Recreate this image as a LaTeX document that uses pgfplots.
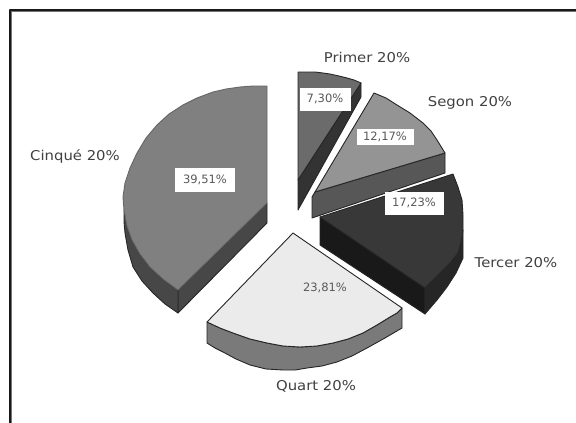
\documentclass[border=0pt]{standalone}
\usepackage{pgfplots}
\pgfplotsset{compat=1.18}
\usepackage{fontspec}
\setmainfont{DejaVu Sans}
\newcommand{\lab}[1]{\fontsize{13.5}{15}\selectfont #1}
\newcommand{\val}[1]{\fontsize{11.5}{13}\selectfont #1}
\begin{document}
\begin{tikzpicture}
\useasboundingbox (0,0) rectangle (576pt,423pt);
\begin{axis}[scale only axis,width=576pt,height=423pt,xmin=0,xmax=576,ymin=0,ymax=423,y dir=reverse,
  axis lines=none,clip=true,
  every axis plot/.append style={mark=none,line join=round,line width=0.9pt,draw=black!85}]
% frame
\addplot[draw=black!55,line width=1pt] coordinates {(11,423) (11,11.5) (576,11.5)};
\addplot[draw=black!90,line width=1.1pt] coordinates {(10,423) (10,10) (576,10)};
% Primer
\addplot[fill=black!80] coordinates {(361,83) (361,97) (298,210) (298,180)} --cycle;
\addplot[fill=black!58] coordinates {(298,72) (306,72) (315,72) (323,73) (330,74) (339,76) (347,78) (354,80) (361,83) (298,180)} --cycle;
% Segon
\addplot[fill=black!66] coordinates {(315,192) (445,153) (445,173) (312,218) (312,197)} --cycle;
\addplot[fill=black!42] coordinates {(315,192) (374,93) (386,98) (397,105) (410,113) (423,123) (431,131) (437,140) (445,153)} --cycle;
% Tercer
\addplot[fill=black!90] coordinates {(320,217) (425,288) (425,314) (320,245)} --cycle;
\addplot[fill=black!85] coordinates {(425,288) (434,279) (443,270) (451,262) (458,253) (461,242) (463,230) (463,245) (463,258) (456,273) (447,287) (437,300) (425,314)} --cycle;
\addplot[fill=black!78] coordinates {(320,217) (453,174) (458,187) (462,200) (463,215) (463,230) (461,242) (458,253) (451,262) (443,270) (434,279) (425,288)} --cycle;
% Quart
\addplot[fill=black!52] coordinates {(207,322) (207,343) (215,348) (223,352) (236,359) (250,365) (266,369) (283,370) (295,370) (307,368) (322,366) (337,362) (352,356) (367,348) (385,338) (402,328) (402,308) (397,313) (390,317) (377,325) (363,333) (348,339) (333,343) (317,346) (300,347) (283,346) (267,343) (250,339) (233,333) (220,328)} --cycle;
\addplot[fill=black!8] coordinates {(293,233) (402,308) (397,313) (390,317) (377,325) (363,333) (348,339) (333,343) (317,346) (300,347) (283,346) (267,343) (250,339) (233,333) (220,328) (207,322)} --cycle;
% Cinque
\addplot[fill=black!72] coordinates {(178,290) (267,203) (267,223) (178,313)} --cycle;
\addplot[fill=black!72] coordinates {(124,210) (124,222) (125,233) (128,250) (133,267) (142,281) (153,293) (165,304) (178,313) (178,290) (163,279) (150,267) (140,254) (132,240) (127,226)} --cycle;
\addplot[fill=black!50,draw=black!60] coordinates {(267,86) (253,86) (240,87) (226,89) (213,92) (197,98) (183,105) (169,114) (157,125) (146,138) (137,153) (130,168) (125,183) (123,197) (124,210) (127,226) (132,240) (140,254) (150,267) (163,279) (178,290) (267,203)} --cycle;
% labels
\node[fill=white,inner sep=0pt,minimum width=51pt,minimum height=23pt,text=black!65] at (axis cs:325,99) {\val{7,30\%}};
\node[fill=white,inner sep=0pt,minimum width=57pt,minimum height=16pt,text=black!65] at (axis cs:385,137) {\val{12,17\%}};
\node[fill=white,inner sep=0pt,minimum width=59pt,minimum height=23pt,text=black!65] at (axis cs:414,203) {\val{17,23\%}};
\node[fill=black!8,inner sep=0pt,minimum width=52pt,minimum height=20pt,text=black!65] at (axis cs:325,288) {\val{23,81\%}};
\node[fill=white,inner sep=0pt,minimum width=60pt,minimum height=24pt,text=black!65] at (axis cs:205,180) {\val{39,51\%}};
\node[text=black!75,xscale=1.1] at (axis cs:367,57) {\lab{Primer 20\%}};
\node[text=black!75,xscale=1.1] at (axis cs:470,103) {\lab{Segon 20\%}};
\node[text=black!75,xscale=1.1] at (axis cs:516,263) {\lab{Tercer 20\%}};
\node[text=black!75,xscale=1.1] at (axis cs:316,386) {\lab{Quart 20\%}};
\node[text=black!75,xscale=1.1] at (axis cs:75,157) {\lab{Cinqué 20\%}};
\end{axis}
\end{tikzpicture}
\end{document}
